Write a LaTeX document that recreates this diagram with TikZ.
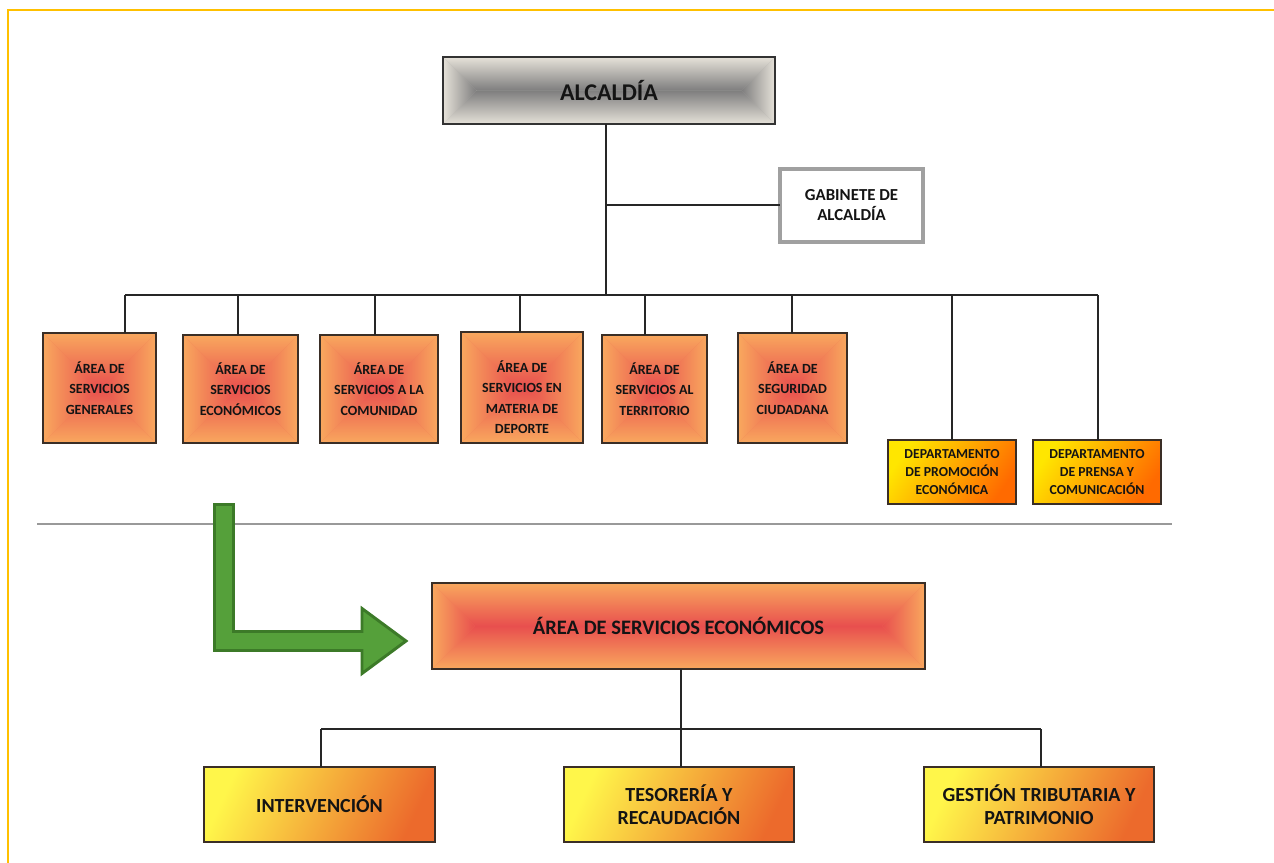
\documentclass[tikz,border=0pt]{standalone}
\usepackage{fontspec}
\setmainfont{Carlito}
\definecolor{borderY}{HTML}{FFC000}
\definecolor{oEdge}{HTML}{F9A85E}
\definecolor{oCenter}{HTML}{E84F4E}
\definecolor{gEdge}{HTML}{E6E2D9}
\definecolor{gCenter}{HTML}{7E7E7E}
\definecolor{yLight}{HTML}{FFF64A}
\definecolor{yDark}{HTML}{EC6A2C}
\definecolor{dLight}{HTML}{FFE600}
\definecolor{dDark}{HTML}{FF6A00}
\definecolor{arrowFill}{HTML}{55A03A}
\definecolor{arrowLine}{HTML}{3C7A28}
\definecolor{frameDark}{HTML}{3A2E26}
\definecolor{gabGray}{HTML}{A0A0A0}
\newcommand\rectgrad[6]{%
  \pgfmathsetmacro\rgh{min(#3-#1,#4-#2)/2}%
  \fill[#6!50!#5] (#1,#2) rectangle (#3,#4);
  \shade[top color=#5,bottom color=#6] (#1,#2) -- (#3,#2) -- ({#3-\rgh},{#2+\rgh}) -- ({#1+\rgh},{#2+\rgh}) -- cycle;
  \shade[top color=#6,bottom color=#5] (#1,#4) -- (#3,#4) -- ({#3-\rgh},{#4-\rgh}) -- ({#1+\rgh},{#4-\rgh}) -- cycle;
  \shade[left color=#5,right color=#6] (#1,#2) -- ({#1+\rgh},{#2+\rgh}) -- ({#1+\rgh},{#4-\rgh}) -- (#1,#4) -- cycle;
  \shade[left color=#6,right color=#5] (#3,#2) -- ({#3-\rgh},{#2+\rgh}) -- ({#3-\rgh},{#4-\rgh}) -- (#3,#4) -- cycle;
}
\newcommand\boxnode[7]{\node[#1, minimum width={(#5-#3)*0.75pt}, minimum height={(#6-#4)*0.75pt}] (#2) at ({(#3+#5)/2},{(#4+#6)/2}) {#7};}
\tikzset{
  conn/.style={draw=black!85, line width=1.1pt},
  basebox/.style={draw=frameDark, line width=0.9pt, inner sep=0pt, outer sep=0pt, align=center, text=black!92},
  abox/.style={basebox, font=\bfseries\fontsize{10.5}{15.4}\selectfont},
  dbox/.style={basebox, top color=dLight, bottom color=dDark, shading angle=55, font=\bfseries\fontsize{10.3}{13.5}\selectfont},
  ybox/.style={basebox, top color=yLight, bottom color=yDark, shading angle=65, font=\bfseries\fontsize{15}{17.3}\selectfont},
  bigbox/.style={basebox, font=\bfseries\fontsize{15.4}{18}\selectfont},
  alcbox/.style={basebox, draw=black!80, font=\bfseries\fontsize{18}{21}\selectfont},
  gabbox/.style={draw=gabGray, line width=3pt, fill=white, inner sep=0pt, outer sep=0pt, align=center, text=black!92, font=\bfseries\fontsize{12.6}{15}\selectfont},
  plaintext/.style={inner sep=0pt, align=center, text=black!92},
}
\begin{document}
\begin{tikzpicture}[x=0.75pt,y=-0.75pt]
\useasboundingbox (0,0) rectangle (1274,863);
\fill[white] (0,0) rectangle (1274,863);
% page frame
\draw[borderY, line width=1.9pt] (8,863) -- (8,10) -- (1274,10);

% ALCALDIA
\rectgrad{443}{57}{775}{124}{gEdge}{gCenter}
\boxnode{alcbox}{alc}{443}{57}{775}{124}{ALCALDÍA}

% Gabinete
\boxnode{gabbox}{gab}{780}{169}{923}{242}{GABINETE DE\\ALCALDÍA}

% areas
\rectgrad{43}{333}{156}{443}{oEdge}{oCenter}
\boxnode{abox}{a1}{43}{333}{156}{443}{ÁREA DE\\SERVICIOS\\GENERALES}
\rectgrad{183}{335}{298}{443}{oEdge}{oCenter}
\boxnode{abox}{a2}{183}{335}{298}{443}{ÁREA DE\\SERVICIOS\\ECONÓMICOS}
\rectgrad{320}{335}{438}{443}{oEdge}{oCenter}
\boxnode{abox}{a3}{320}{335}{438}{443}{ÁREA DE\\SERVICIOS A LA\\COMUNIDAD}
\rectgrad{461}{332}{583}{443}{oEdge}{oCenter}
\boxnode{abox}{a4}{461}{332}{583}{443}{}
\node[plaintext, font=\bfseries\fontsize{10.5}{15.4}\selectfont] (a4t) at (522,397) {ÁREA DE\\SERVICIOS EN\\MATERIA DE\\DEPORTE};
\rectgrad{602}{335}{707}{443}{oEdge}{oCenter}
\boxnode{abox}{a5}{602}{335}{707}{443}{ÁREA DE\\SERVICIOS AL\\TERRITORIO}
\rectgrad{738}{333}{847}{443}{oEdge}{oCenter}
\boxnode{abox}{a6}{738}{333}{847}{443}{ÁREA DE\\SEGURIDAD\\CIUDADANA}

% departments
\boxnode{dbox}{d7}{888}{440}{1016}{504}{DEPARTAMENTO\\DE PROMOCIÓN\\ECONÓMICA}
\boxnode{dbox}{d8}{1033}{440}{1161}{504}{DEPARTAMENTO\\DE PRENSA Y\\COMUNICACIÓN}

% connectors upper
\coordinate (gj) at (606,205);
\coordinate (bus) at (606,295);
\coordinate (b1) at (125,295);
\coordinate (b2) at (238,295);
\coordinate (b3) at (375,295);
\coordinate (b4) at (520,295);
\coordinate (b5) at (645,295);
\coordinate (b6) at (792,295);
\coordinate (b7) at (952,295);
\coordinate (b8) at (1098,295);
\draw[conn] (alc.south -| bus) -- (bus);
\draw[conn] (gj) -- (gab.west |- gj);
\draw[conn] (b1) -- (b8);
\draw[conn] (b1) -- (b1 |- a1.north);
\draw[conn] (b2) -- (b2 |- a2.north);
\draw[conn] (b3) -- (b3 |- a3.north);
\draw[conn] (b4) -- (b4 |- a4.north);
\draw[conn] (b5) -- (b5 |- a5.north);
\draw[conn] (b6) -- (b6 |- a6.north);
\draw[conn] (b7) -- (b7 |- d7.north);
\draw[conn] (b8) -- (b8 |- d8.north);

% separator
\coordinate (sepL) at (37,524);
\coordinate (sepR) at (1172,524);
\draw[black!40, line width=0.8pt] (sepL) -- (sepR);

% green arrow
\draw[fill=arrowFill, draw=arrowLine, line width=2.2pt, line join=miter]
  (214.5,504.5) -- (233.5,504.5) -- (233.5,631.5) -- (362,631.5) -- (362,608.5)
  -- (406,641) -- (362,673.5) -- (362,650.5) -- (214.5,650.5) -- cycle;

% economic area
\rectgrad{432}{583}{925}{669}{oEdge}{oCenter}
\boxnode{bigbox}{econ}{432}{583}{925}{669}{ÁREA DE SERVICIOS ECONÓMICOS}

% lower boxes
\boxnode{ybox}{c1}{204}{767}{435}{842}{INTERVENCIÓN}
\boxnode{ybox}{c2}{564}{767}{794}{842}{TESORERÍA Y\\RECAUDACIÓN}
\boxnode{ybox}{c3}{924}{767}{1154}{842}{GESTIÓN TRIBUTARIA Y\\PATRIMONIO}

\coordinate (lbus) at (681,729);
\coordinate (l1) at (321,729);
\coordinate (l3) at (1041,729);
\draw[conn] (econ.south -| lbus) -- (lbus);
\draw[conn] (l1) -- (l3);
\draw[conn] (l1) -- (l1 |- c1.north);
\draw[conn] (lbus) -- (lbus |- c2.north);
\draw[conn] (l3) -- (l3 |- c3.north);
\end{tikzpicture}
\end{document}
